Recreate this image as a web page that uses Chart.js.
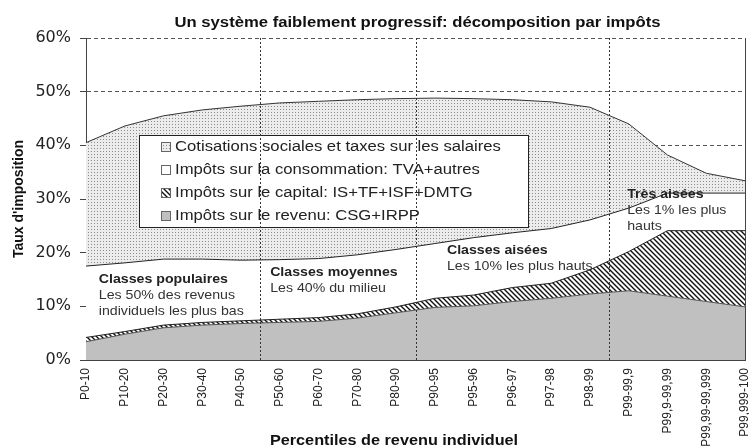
<!DOCTYPE html>
<html lang="fr">
<head>
<meta charset="utf-8">
<title>Un système faiblement progressif</title>
<script src="https://cdn.jsdelivr.net/npm/chart.js@4.4.1/dist/chart.umd.min.js"></script>
<style>
  html, body { margin: 0; padding: 0; background: #fff; }
  canvas { display: block; }
</style>
</head>
<body>
<canvas id="graphique" width="749" height="448"></canvas>
<script>
const percentiles = ['P0-10', 'P10-20', 'P20-30', 'P30-40', 'P40-50', 'P50-60', 'P60-70', 'P70-80', 'P80-90',
  'P90-95', 'P95-96', 'P96-97', 'P97-98', 'P98-99', 'P99-99,9', 'P99,9-99,99', 'P99,99-99,999', 'P99,999-100'];

// taux par impôt (% du revenu)
const impotRevenu = [3.4, 4.8, 6.0, 6.5, 6.8, 7.0, 7.2, 7.8, 8.8, 9.8, 10.1, 10.9, 11.5, 12.3, 12.9, 11.9, 10.9, 9.9];
const impotCapital = [0.8, 0.5, 0.5, 0.5, 0.5, 0.6, 0.7, 0.8, 1.1, 1.7, 2.0, 2.6, 2.8, 4.5, 7.3, 12.2, 13.2, 14.2];
const impotConso = [13.3, 12.8, 12.3, 11.8, 11.3, 11.1, 11.0, 11.0, 10.7, 10.2, 10.7, 10.2, 10.2, 9.3, 8.1, 7.0, 7.0, 7.0];
const cotisations = [23.0, 25.5, 26.7, 27.8, 28.7, 29.2, 29.3, 28.9, 28.1, 27.1, 25.9, 24.8, 23.6, 21.0, 15.7, 7.1, 3.7, 2.3];

const ticksY = [0, 10, 20, 30, 40, 50, 60];
const separateurs = [4.5, 8.5, 13.5];

const groupes = [
  { x: 0.33, y: 15.1, titre: 'Classes populaires', lignes: ['Les 50% des revenus', 'individuels les plus bas'] },
  { x: 4.75, y: 16.4, titre: 'Classes moyennes', lignes: ['Les 40% du milieu'] },
  { x: 9.31, y: 20.5, titre: 'Classes aisées', lignes: ['Les 10% les plus hauts'] },
  { x: 13.96, y: 30.9, titre: 'Très aisées', lignes: ['Les 1% les plus', 'hauts'] }
];

const police = '"Liberation Sans", Arial, sans-serif';

// le texte de l'original est un peu étiré en largeur
function texte(ctx, s, x, y, fx, align) {
  ctx.save();
  ctx.translate(x, y);
  ctx.scale(fx, 1);
  ctx.textAlign = align || 'left';
  ctx.fillText(s, 0, 0);
  ctx.restore();
}

function motifPoints() {
  const c = document.createElement('canvas');
  c.width = 3; c.height = 3;
  const g = c.getContext('2d');
  g.fillStyle = '#ececec';
  g.fillRect(0, 0, 3, 3);
  g.fillStyle = '#8c8c8c';
  g.fillRect(1, 1, 1, 1);
  return g.createPattern(c, 'repeat');
}

function motifHachures() {
  const c = document.createElement('canvas');
  c.width = 5; c.height = 5;
  const g = c.getContext('2d');
  g.fillStyle = '#fff';
  g.fillRect(0, 0, 5, 5);
  g.strokeStyle = '#111';
  g.lineWidth = 1.4;
  g.beginPath();
  [-5, 0, 5].forEach(k => { g.moveTo(k - 1, -1); g.lineTo(k + 6, 6); });
  g.stroke();
  return g.createPattern(c, 'repeat');
}

const decor = {
  id: 'decor',
  beforeDatasetsDraw(chart) {
    const ctx = chart.ctx;
    const sx = chart.scales.x, sy = chart.scales.y;
    ctx.save();
    ctx.textBaseline = 'middle';
    groupes.forEach(gr => {
      const x = sx.getPixelForValue(gr.x);
      let y = sy.getPixelForValue(gr.y);
      ctx.font = 'bold 13px ' + police;
      ctx.fillStyle = '#222';
      texte(ctx, gr.titre, x, y, 1.09);
      ctx.font = '13px ' + police;
      ctx.fillStyle = '#333';
      gr.lignes.forEach(l => { y += 16; texte(ctx, l, x, y, 1.09); });
    });
    ctx.restore();
  },
  afterDatasetsDraw(chart) {
    const ctx = chart.ctx;
    const a = chart.chartArea;
    const sx = chart.scales.x;
    ctx.save();

    // légende dans le graphique
    const lx = a.left + 53, ly = a.top + 97, lw = 389, lh = 92;
    ctx.fillStyle = '#fff';
    ctx.fillRect(lx, ly, lw, lh);
    ctx.strokeStyle = '#222';
    ctx.lineWidth = 1;
    ctx.strokeRect(lx + 0.5, ly + 0.5, lw, lh);
    const ds = chart.data.datasets.slice().reverse();
    ctx.font = '14px ' + police;
    ctx.textBaseline = 'middle';
    ds.forEach((d, i) => {
      const y = ly + 12 + i * 23;
      ctx.fillStyle = d.backgroundColor;
      ctx.fillRect(lx + 22, y - 5, 10, 10);
      ctx.strokeStyle = '#666';
      ctx.strokeRect(lx + 22.5, y - 4.5, 9, 9);
      ctx.fillStyle = '#222';
      texte(ctx, d.label, lx + 36, y, 1.19);
    });

    // séparateurs des groupes
    ctx.strokeStyle = '#333';
    ctx.setLineDash([2, 2]);
    separateurs.forEach(v => {
      const x = Math.round(sx.getPixelForValue(v)) + 0.5;
      ctx.beginPath();
      ctx.moveTo(x, a.top);
      ctx.lineTo(x, a.bottom);
      ctx.stroke();
    });

    // bord droit
    ctx.setLineDash([]);
    ctx.strokeStyle = '#444';
    ctx.beginPath();
    ctx.moveTo(Math.round(a.right) + 0.5, a.top);
    ctx.lineTo(Math.round(a.right) + 0.5, a.bottom);
    ctx.stroke();
    ctx.restore();
  },
  afterDraw(chart) {
    const ctx = chart.ctx;
    const a = chart.chartArea;
    ctx.save();
    ctx.fillStyle = '#111';
    ctx.textBaseline = 'middle';
    ctx.font = 'bold 14px ' + police;
    texte(ctx, 'Un système faiblement progressif: décomposition par impôts', (a.left + a.right) / 2 + 2, 23, 1.19, 'center');
    ctx.font = 'bold 14px ' + police;
    texte(ctx, 'Percentiles de revenu individuel', a.left + 308, 441, 1.16, 'center');
    ctx.restore();
  }
};

const ctx = document.getElementById('graphique');

new Chart(ctx, {
  type: 'line',
  data: {
    labels: percentiles,
    datasets: [
      { label: 'Impôts sur le revenu: CSG+IRPP', data: impotRevenu, fill: 'origin', backgroundColor: '#c0c0c0', borderColor: '#555' },
      { label: 'Impôts sur le capital: IS+TF+ISF+DMTG', data: impotCapital, fill: '-1', backgroundColor: motifHachures(), borderColor: '#222' },
      { label: 'Impôts sur la consommation: TVA+autres', data: impotConso, fill: '-1', backgroundColor: '#ffffff', borderColor: '#222' },
      { label: 'Cotisations sociales et taxes sur les salaires', data: cotisations, fill: '-1', backgroundColor: motifPoints(), borderColor: '#333' }
    ]
  },
  options: {
    responsive: false,
    animation: false,
    devicePixelRatio: 1,
    layout: { padding: { top: 38, right: 4, left: 0, bottom: 0 } },
    elements: {
      point: { radius: 0 },
      line: { tension: 0, borderWidth: 1 }
    },
    plugins: {
      legend: { display: false },
      tooltip: { enabled: false },
      filler: { drawTime: 'beforeDatasetsDraw' }
    },
    scales: {
      x: {
        offset: false,
        grid: { display: false, drawTicks: false },
        border: { color: '#444' },
        ticks: {
          autoSkip: false, maxRotation: 90, minRotation: 90, padding: 8,
          font: { family: police, size: 12 }, color: '#222'
        },
        afterFit(s) { s.height = 88; s.paddingLeft = 0; s.paddingRight = 0; }
      },
      y: {
        stacked: true,
        min: 0,
        max: 60,
        afterBuildTicks(s) { s.ticks = ticksY.map(v => ({ value: v })); },
        ticks: { callback: v => v + '%', font: { family: '"DejaVu Sans", sans-serif', size: 16 }, color: '#222', padding: 9 },
        grid: { color: '#555', tickLength: 6, tickColor: '#444', tickBorderDash: [] },
        border: { color: '#444', dash: [4, 3] },
        title: {
          display: true, text: "Taux d'imposition", color: '#111',
          font: { family: police, size: 14, weight: 'bold' }, padding: { top: 11, bottom: 0 }
        },
        afterFit(s) { s.width = 86; }
      }
    }
  },
  plugins: [decor]
});
</script>
</body>
</html>
